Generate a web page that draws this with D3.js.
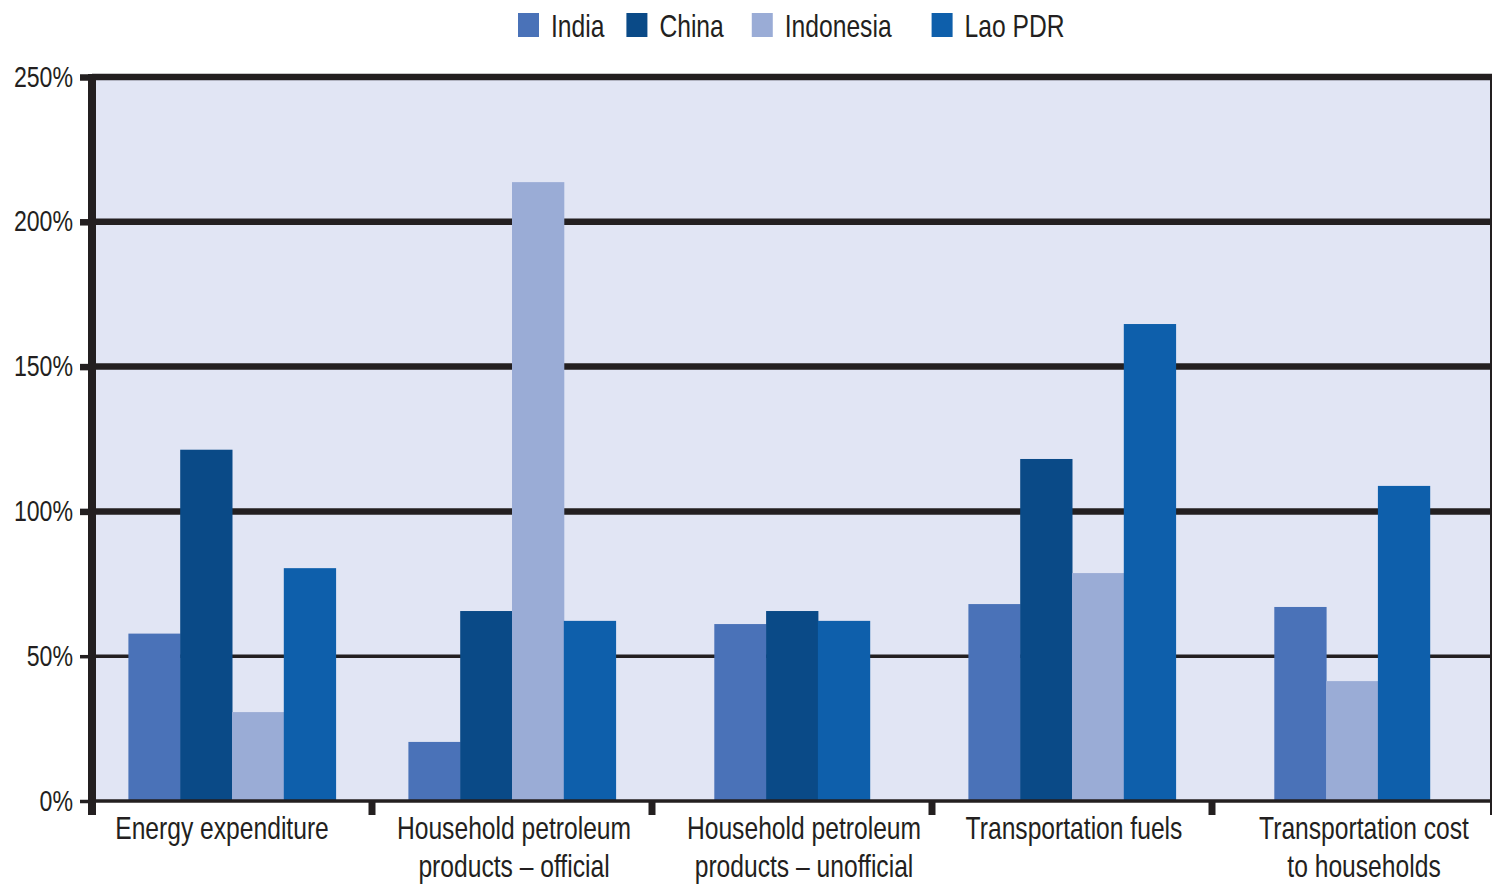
<!DOCTYPE html>
<html>
<head>
<meta charset="utf-8">
<script src="https://cdn.jsdelivr.net/npm/d3@7"></script>
<style>
  body { margin: 0; background: #fff; }
  svg { display: block; }
  text { font-family: "Liberation Sans", Arial, sans-serif; fill: #231f20; }
</style>
</head>
<body>
<svg id="chart" width="1492" height="884"></svg>
<script>
// Categories (line breaks mark the two-line axis labels)
const categories = [
  "Energy expenditure",
  "Household petroleum\nproducts – official",
  "Household petroleum\nproducts – unofficial",
  "Transportation fuels",
  "Transportation cost\nto households"
];
const seriesNames = ["India", "China", "Indonesia", "Lao PDR"];

// Values in percent; null = no bar for that country
const india     = [57.8, 20.4, 61.1, 68.0, 67.0];
const china     = [121.3, 65.6, 65.6, 118.1, null];
const indonesia = [30.7, 213.7, null, 78.7, 41.4];
const laoPDR    = [80.4, 62.2, 62.2, 164.7, 108.8];

const yTicks = [0, 50, 100, 150, 200, 250];

const seriesValues = [india, china, indonesia, laoPDR];
const colors = ["#4a72b8", "#0a4a87", "#9aacd6", "#0e5fab"];
const ink = "#231f20";
const SX = 0.77; // horizontal squeeze for the condensed lettering

const plot = { left: 92, right: 1492, top: 77, bottom: 801 };
const svg = d3.select("#chart");

const x = d3.scaleBand().domain(categories).range([plot.left, plot.right]);
const y = d3.scaleLinear().domain([0, 250]).range([plot.bottom, plot.top]);

function label(g, px, py, str, anchor, size) {
  return g.append("text")
    .attr("transform", `translate(${px},${py}) scale(${SX},1)`)
    .attr("text-anchor", anchor)
    .attr("font-size", size)
    .text(str);
}
const lineWidth = v => (v === 0 || v === 50) ? 3.5 : 6.5;

// Plot background
svg.append("rect")
  .attr("x", plot.left).attr("y", y(250))
  .attr("width", plot.right - 1 - plot.left).attr("height", y(0) - y(250))
  .attr("fill", "#e1e5f4");

// Horizontal gridlines (behind bars)
svg.append("g").selectAll("line")
  .data(yTicks.filter(v => v > 0))
  .join("line")
  .attr("x1", plot.left).attr("x2", plot.right)
  .attr("y1", d => y(d)).attr("y2", d => y(d))
  .attr("stroke", ink)
  .attr("stroke-width", lineWidth);

// Bars: each group packs only the countries that have a value, centred in the band
const barW = x.bandwidth() * 0.185;
const barsG = svg.append("g");
categories.forEach((cat, i) => {
  const present = seriesNames.filter((s, k) => seriesValues[k][i] != null);
  const cx = x(cat) + x.bandwidth() / 2;
  const inner = d3.scaleBand().domain(present)
    .range([cx - present.length * barW / 2, cx + present.length * barW / 2]);
  barsG.selectAll(null)
    .data(present.map(s => ({ s, v: seriesValues[seriesNames.indexOf(s)][i] })))
    .join("rect")
    .attr("x", d => inner(d.s))
    .attr("width", inner.bandwidth() + 0.5)
    .attr("y", d => y(d.v))
    .attr("height", d => y(0) - y(d.v))
    .attr("fill", d => colors[seriesNames.indexOf(d.s)]);
});

// Baseline
svg.append("line")
  .attr("x1", plot.left).attr("x2", plot.right)
  .attr("y1", y(0)).attr("y2", y(0))
  .attr("stroke", ink).attr("stroke-width", lineWidth(0));

// Right frame edge
svg.append("line")
  .attr("x1", plot.right - 1).attr("x2", plot.right - 1)
  .attr("y1", y(250)).attr("y2", y(0) + 14)
  .attr("stroke", ink).attr("stroke-width", 2);

// Category separators below the baseline
svg.append("g").selectAll("line")
  .data(categories.slice(1))
  .join("line")
  .attr("x1", d => x(d)).attr("x2", d => x(d))
  .attr("y1", y(0)).attr("y2", y(0) + 14)
  .attr("stroke", ink).attr("stroke-width", 7);

// Y axis
const yAxis = svg.append("g")
  .attr("transform", `translate(${plot.left},0)`)
  .call(d3.axisLeft(y).tickValues(yTicks).tickSize(12).tickFormat(d => d + "%"));
yAxis.select(".domain").remove();
yAxis.selectAll(".tick line")
  .attr("stroke", ink)
  .attr("stroke-width", d => lineWidth(d));
yAxis.selectAll(".tick text")
  .attr("x", 0).attr("dy", null)
  .attr("transform", `translate(-19,9) scale(${SX},1)`)
  .attr("font-size", 30)
  .attr("font-family", null)
  .attr("fill", ink)
  .attr("text-anchor", "end");

// Thick left axis line
svg.append("line")
  .attr("x1", plot.left).attr("x2", plot.left)
  .attr("y1", y(250) - 3).attr("y2", y(0) + 14)
  .attr("stroke", ink).attr("stroke-width", 8);

// Category labels (small nudges off the band centre)
const labelNudge = [-10, 2, 12, 2, 12];
const xl = svg.append("g");
categories.forEach((cat, i) => {
  const cx = x(cat) + x.bandwidth() / 2 + labelNudge[i];
  cat.split("\n").forEach((line, j) => {
    label(xl, cx, 839 + j * 38, line, "middle", 32);
  });
});

// Legend
const legendGaps = [22, 28, 40];
const leg = svg.append("g");
let lx = 518;
seriesNames.forEach((name, k) => {
  leg.append("rect")
    .attr("x", lx).attr("y", 13).attr("width", 21).attr("height", 24)
    .attr("fill", colors[k]);
  const t = label(leg, lx + 33, 37, name, "start", 32);
  lx += 33 + t.node().getComputedTextLength() * SX + (legendGaps[k] || 0);
});
</script>
</body>
</html>
